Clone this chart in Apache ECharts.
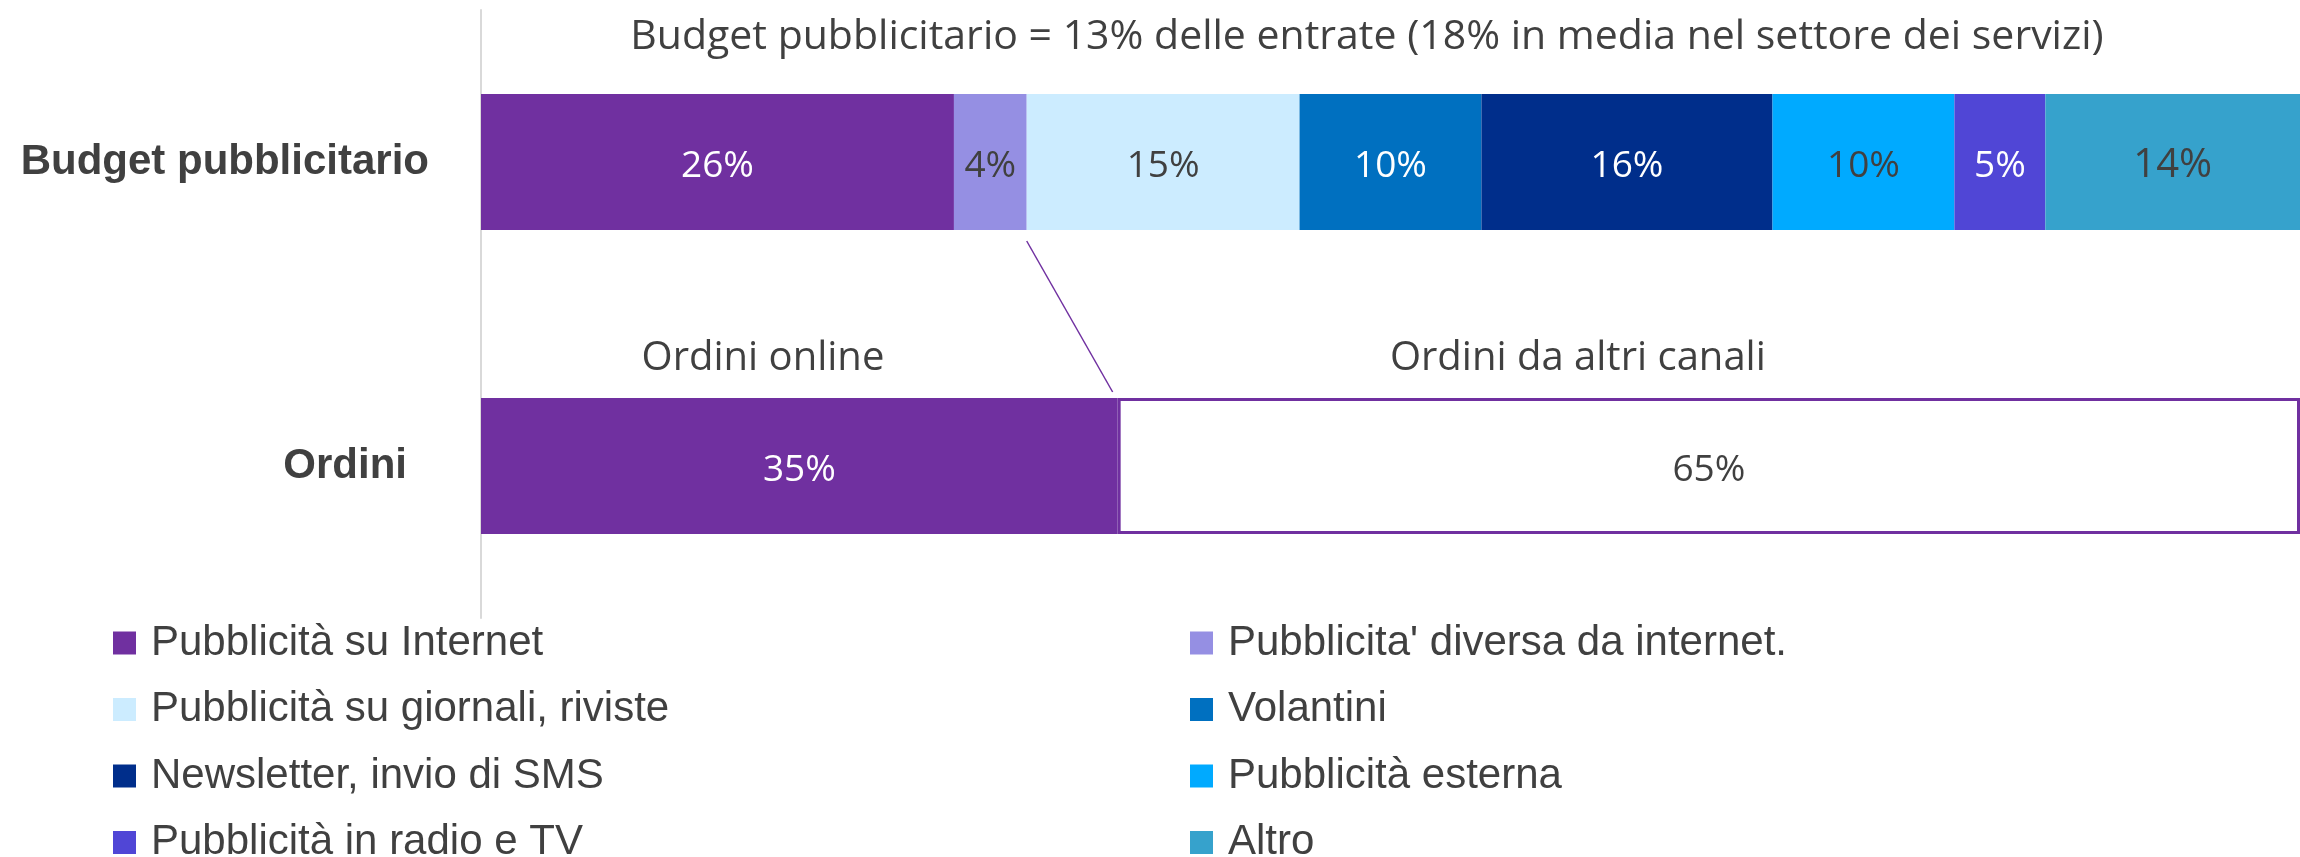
<!DOCTYPE html>
<html>
<head>
<meta charset="utf-8">
<script src="https://cdn.jsdelivr.net/npm/echarts@6/dist/echarts.min.js"></script>
<style>
  html, body { margin: 0; padding: 0; background: #fff; }
  #chart { width: 2300px; height: 857px; }
</style>
</head>
<body>
<div id="chart"></div>
<script>
const categories = ["Budget pubblicitario", "Ordini"];
const budgetNames = [
  "Pubblicità su Internet",
  "Pubblicita' diversa da internet.",
  "Pubblicità su giornali, riviste",
  "Volantini",
  "Newsletter, invio di SMS",
  "Pubblicità esterna",
  "Pubblicità in radio e TV",
  "Altro",
];
const budgetValues = [26, 4, 15, 10, 16, 10, 5, 14];
const budgetColors = ["#7030A0", "#958FE3", "#CCECFF", "#0070C0", "#002E8B", "#00AAFF", "#5046D6", "#36A2CC"];
const labelColors = ["#fff", "#404040", "#404040", "#fff", "#fff", "#404040", "#fff", "#404040"];
const orderNames = ["Ordini online", "Ordini da altri canali"];
const orderValues = [35, 65];
const titleText = "Budget pubblicitario = 13% delle entrate (18% in media nel settore dei servizi)";

const BAR_H = 136;
const chart = echarts.init(document.getElementById("chart"));

const labelFont = "'Open Sans', sans-serif";
const arialFont = "'Liberation Sans', Arial, sans-serif";

const budgetSeries = budgetNames.map((name, i) => ({
  name,
  type: "bar",
  stack: "total",
  barWidth: BAR_H,
  itemStyle: { color: budgetColors[i] },
  label: {
    show: true,
    position: "inside",
    offset: [0, 4],
    formatter: "{c}%",
    color: labelColors[i],
    fontFamily: labelFont,
    fontSize: i === 7 ? 40 : 37,
  },
  data: [budgetValues[i], "-"],
}));

const orderSeries = orderNames.map((name, i) => ({
  name,
  type: "bar",
  stack: "total",
  barWidth: BAR_H,
  itemStyle: i === 0
    ? { color: "#7030A0" }
    : { color: "#fff", borderColor: "#7030A0", borderWidth: 3 },
  label: {
    show: true,
    position: "inside",
    offset: [0, 4],
    formatter: "{c}%",
    color: i === 0 ? "#fff" : "#404040",
    fontFamily: labelFont,
    fontSize: 37,
  },
  data: ["-", orderValues[i]],
}));

// nomi sopra la barra Ordini
const orderTitles = {
  type: "custom",
  silent: true,
  data: [[orderValues[0] / 2 - 2, 1, 0], [orderValues[0] + orderValues[1] / 2 - 7.2, 1, 1]],
  encode: { x: 0, y: 1 },
  renderItem: (params, api) => {
    const p = api.coord([api.value(0), api.value(1)]);
    return {
      type: "text",
      style: {
        text: orderNames[api.value(2)],
        x: p[0],
        y: p[1] - BAR_H / 2 - 39,
        align: "center",
        verticalAlign: "middle",
        fill: "#404040",
        font: "40px " + labelFont,
      },
    };
  },
};

// linea di collegamento
const connector = {
  type: "custom",
  silent: true,
  data: [[budgetValues[0] + budgetValues[1], 0, orderValues[0], 1]],
  encode: { x: [0, 2], y: [1, 3] },
  renderItem: (params, api) => {
    const a = api.coord([api.value(0), api.value(1)]);
    const b = api.coord([api.value(2), api.value(3)]);
    return {
      type: "line",
      shape: { x1: a[0], y1: a[1] + BAR_H / 2 + 11, x2: b[0] - 5, y2: b[1] - BAR_H / 2 - 6 },
      style: { stroke: "#7030A0", lineWidth: 1.5 },
    };
  },
};

const legendBase = {
  orient: "vertical",
  top: 617,
  height: 280,
  itemWidth: 23,
  itemHeight: 23,
  itemGap: 24.5,
  icon: "rect",
  selectedMode: false,
  textStyle: { color: "#404040", fontSize: 42, fontFamily: arialFont, lineHeight: 40, padding: [0, 0, 0, 10] },
};

chart.setOption({
  animation: false,
  title: {
    text: titleText,
    left: 1362,
    top: 12,
    textAlign: "center",
    textStyle: { color: "#404040", fontSize: 41, fontWeight: "normal", fontFamily: labelFont },
  },
  grid: { left: 481, right: 0, top: 10, height: 608 },
  xAxis: { type: "value", min: 0, max: 100, show: false },
  yAxis: {
    type: "category",
    data: categories,
    inverse: true,
    axisLine: { show: true, lineStyle: { color: "#d9d9d9", width: 2 } },
    axisTick: { show: false },
    axisLabel: {
      margin: 52,
      formatter: (v) => (v === "Ordini" ? "{o|" + v + "}" : "{b|" + v + "}"),
      rich: {
        b: { fontSize: 42, fontWeight: "bold", color: "#404040", fontFamily: arialFont },
        o: { fontSize: 42, fontWeight: "bold", color: "#404040", fontFamily: arialFont, padding: [0, 22, 0, 0] },
      },
    },
  },
  legend: [
    { ...legendBase, left: 108, data: budgetNames.filter((_, i) => i % 2 === 0) },
    { ...legendBase, left: 1185, data: budgetNames.filter((_, i) => i % 2 === 1) },
  ],
  series: [...budgetSeries, ...orderSeries, orderTitles, connector],
});
</script>
</body>
</html>
